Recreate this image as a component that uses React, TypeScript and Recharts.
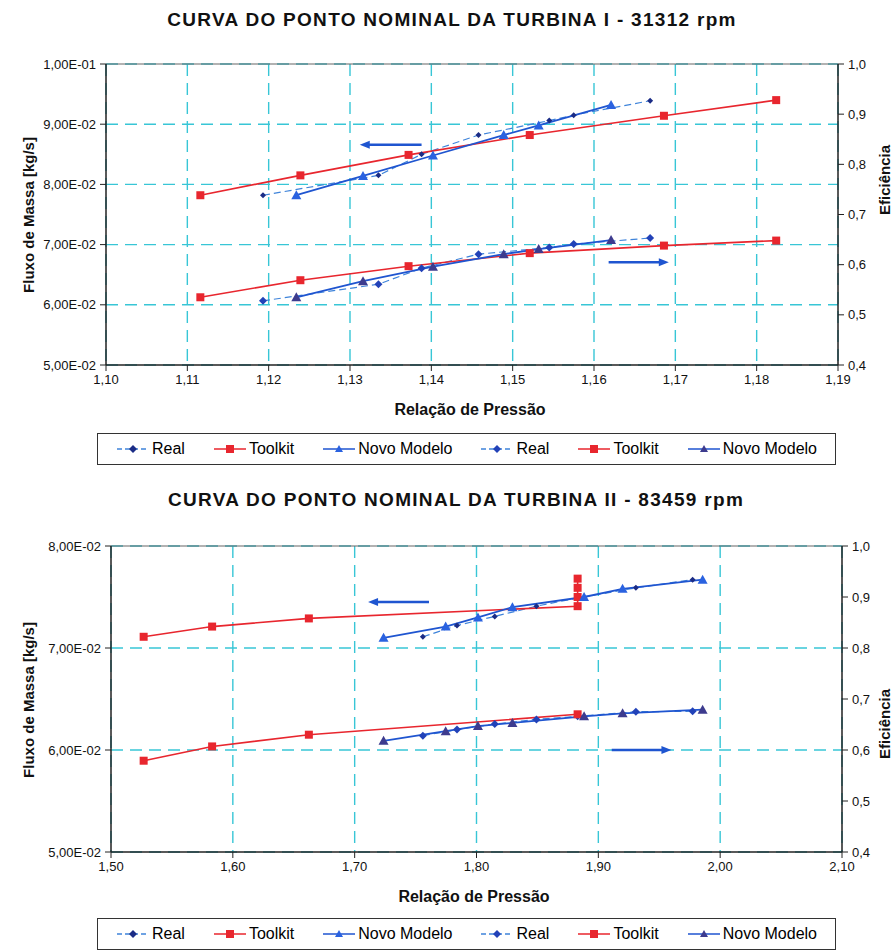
import { LineChart, Line, XAxis, YAxis, CartesianGrid, ReferenceLine } from 'recharts'

const FONT = '"Liberation Sans", Arial, Helvetica, sans-serif'
const GRID = '#38c6d6'
const RED = '#e8262e'
const BLUE = '#1f55d0'
const LIGHT_BLUE = '#3f84da'
const NAVY = '#1b2c86'
const PURPLE = '#3d3b8e'

// Turbina I - 31312 rpm
const t1RealX = [1.1193, 1.1335, 1.1388, 1.1458, 1.1545, 1.1575, 1.1669]
const t1RealMass = [0.0782, 0.0815, 0.085, 0.0882, 0.0906, 0.0915, 0.0939]
const t1RealEff = [0.528, 0.561, 0.593, 0.621, 0.634, 0.641, 0.653]
const t1ToolX = [1.1116, 1.1239, 1.1372, 1.1521, 1.1686, 1.1824]
const t1ToolMass = [0.0782, 0.0815, 0.0849, 0.0882, 0.0914, 0.094]
const t1ToolEff = [0.535, 0.569, 0.597, 0.623, 0.638, 0.648]
const t1NovoX = [1.1234, 1.1316, 1.1402, 1.1489, 1.1532, 1.1621]
const t1NovoMass = [0.0782, 0.0814, 0.0848, 0.0882, 0.0898, 0.0932]
const t1NovoEff = [0.535, 0.567, 0.596, 0.621, 0.631, 0.649]
const t1XTicks = [1.1, 1.11, 1.12, 1.13, 1.14, 1.15, 1.16, 1.17, 1.18, 1.19]
const t1MassTicks = [0.05, 0.06, 0.07, 0.08, 0.09, 0.1]

// Turbina II - 83459 rpm
const t2RealX = [1.756, 1.784, 1.815, 1.8492, 1.883, 1.9308, 1.9774]
const t2RealMass = [0.0711, 0.0722, 0.0731, 0.0741, 0.0749, 0.0759, 0.0767]
const t2RealEff = [0.628, 0.64, 0.651, 0.66, 0.666, 0.675, 0.676]
const t2ToolX = [1.5268, 1.583, 1.6624, 1.883, 1.883, 1.883, 1.883]
const t2ToolMass = [0.0711, 0.0721, 0.0729, 0.0741, 0.075, 0.0759, 0.0768]
const t2ToolEffX = [1.5268, 1.583, 1.6624, 1.883]
const t2ToolEff = [0.579, 0.607, 0.63, 0.67]
const t2NovoX = [1.7237, 1.7747, 1.8012, 1.8295, 1.8883, 1.9199, 1.9856]
const t2NovoMass = [0.071, 0.0721, 0.073, 0.074, 0.075, 0.0758, 0.0767]
const t2NovoEff = [0.618, 0.637, 0.647, 0.653, 0.666, 0.672, 0.679]
const t2XTicks = [1.5, 1.6, 1.7, 1.8, 1.9, 2.0, 2.1]
const t2MassTicks = [0.05, 0.06, 0.07, 0.08]

const effTicks = [0.4, 0.5, 0.6, 0.7, 0.8, 0.9, 1.0]

// annotation arrows: [x start, x end, y, axis]
const t1Arrows: [number, number, number, string][] = [
  [1.1388, 1.1312, 0.0866, 'm'],
  [1.1618, 1.1692, 0.605, 'e'],
]
const t2Arrows: [number, number, number, string][] = [
  [1.761, 1.711, 0.0745, 'm'],
  [1.911, 1.96, 0.6, 'e'],
]

const pts = (xs: number[], ys: number[]) => xs.map((x, i) => ({ x, y: ys[i] }))

const fmtMass = (v: number) => {
  const e = Math.floor(Math.log10(v) + 1e-9)
  const m = v / Math.pow(10, e)
  return `${m.toFixed(2).replace('.', ',')}E-${String(-e).padStart(2, '0')}`
}
const fmtComma = (d: number) => (v: number) => v.toFixed(d).replace('.', ',')

const diamond = (color: string, s: number) => (p: any) => {
  if (p.cx == null) return null
  return <polygon key={p.index} points={`${p.cx},${p.cy - s} ${p.cx + s},${p.cy} ${p.cx},${p.cy + s} ${p.cx - s},${p.cy}`} fill={color} />
}
const square = (color: string) => (p: any) => {
  if (p.cx == null) return null
  return <rect key={p.index} x={p.cx - 4} y={p.cy - 4} width={8} height={8} fill={color} />
}
const triangle = (color: string) => (p: any) => {
  if (p.cx == null) return null
  return <polygon key={p.index} points={`${p.cx},${p.cy - 5} ${p.cx + 5},${p.cy + 4} ${p.cx - 5},${p.cy + 4}`} fill={color} />
}

const arrowShape = (p: any) => {
  const { x1, y1, x2, y2 } = p
  const dir = x2 > x1 ? 1 : -1
  return (
    <g>
      <line x1={x1} y1={y1} x2={x2 - dir * 6} y2={y2} stroke={BLUE} strokeWidth={2.5} />
      <polygon points={`${x2},${y2} ${x2 - dir * 10},${y2 - 4} ${x2 - dir * 10},${y2 + 4}`} fill={BLUE} />
    </g>
  )
}

interface Series {
  key: string
  axis: string
  data: { x: number; y: number }[]
  stroke: string
  width: number
  dash?: string
  dot: any
}

function turbineSeries(realX: number[], realM: number[], realE: number[], toolX: number[], toolM: number[], toolEX: number[], toolE: number[], novoX: number[], novoM: number[], novoE: number[]): Series[] {
  return [
    { key: 'realM', axis: 'm', data: pts(realX, realM), stroke: LIGHT_BLUE, width: 1.2, dash: '7 4', dot: diamond(NAVY, 3) },
    { key: 'toolM', axis: 'm', data: pts(toolX, toolM), stroke: RED, width: 1.6, dot: square(RED) },
    { key: 'novoM', axis: 'm', data: pts(novoX, novoM), stroke: BLUE, width: 1.8, dot: triangle('#2a62e0') },
    { key: 'realE', axis: 'e', data: pts(realX, realE), stroke: LIGHT_BLUE, width: 1.2, dash: '7 4', dot: diamond('#2242b8', 4) },
    { key: 'toolE', axis: 'e', data: pts(toolEX, toolE), stroke: RED, width: 1.6, dot: square(RED) },
    { key: 'novoE', axis: 'e', data: pts(novoX, novoE), stroke: BLUE, width: 1.8, dot: triangle(PURPLE) },
  ]
}

const tickStyle = { fontSize: 13, fill: '#111', fontFamily: FONT }
const axisLine = { stroke: '#222', strokeWidth: 1.5 }

function TurbineChart({ top, margin, xTicks, massTicks, series, arrows }: any) {
  const xDomain = [xTicks[0], xTicks[xTicks.length - 1]]
  const mDomain = [massTicks[0], massTicks[massTicks.length - 1]]
  return (
    <div style={{ position: 'absolute', left: 0, top }}>
      <LineChart width={880} height={400} margin={margin}>
        <CartesianGrid yAxisId="m" stroke={GRID} strokeWidth={1.4} strokeDasharray="12 7" />
        <XAxis
          type="number"
          dataKey="x"
          domain={xDomain}
          ticks={xTicks}
          tickFormatter={fmtComma(2)}
          allowDataOverflow
          height={30}
          tick={tickStyle}
          axisLine={axisLine}
          tickLine={{ stroke: '#222' }}
          tickMargin={4}
        />
        <YAxis
          yAxisId="m"
          type="number"
          domain={mDomain}
          ticks={massTicks}
          tickFormatter={fmtMass}
          allowDataOverflow
          width={70}
          tick={tickStyle}
          axisLine={axisLine}
          tickLine={{ stroke: '#222' }}
          tickMargin={4}
        />
        <YAxis
          yAxisId="e"
          orientation="right"
          type="number"
          domain={[0.4, 1.0]}
          ticks={effTicks}
          tickFormatter={fmtComma(1)}
          allowDataOverflow
          width={40}
          tick={tickStyle}
          axisLine={axisLine}
          tickLine={{ stroke: '#222' }}
          tickMargin={4}
        />
        <ReferenceLine yAxisId="m" y={mDomain[1]} stroke="#666" strokeWidth={1.2} />
        {series.map((s: Series) => (
          <Line
            key={s.key}
            yAxisId={s.axis}
            data={s.data}
            dataKey="y"
            type="linear"
            stroke={s.stroke}
            strokeWidth={s.width}
            strokeDasharray={s.dash}
            dot={s.dot}
            activeDot={false}
            isAnimationActive={false}
          />
        ))}
        {arrows.map((a: [number, number, number, string], i: number) => (
          <ReferenceLine
            key={`arrow-${i}`}
            yAxisId={a[3]}
            segment={[{ x: a[0], y: a[2] }, { x: a[1], y: a[2] }]}
            shape={arrowShape}
          />
        ))}
      </LineChart>
    </div>
  )
}

const legendItems = [
  { name: 'Real', stroke: LIGHT_BLUE, dash: '5 3', marker: 'diamond', fill: NAVY },
  { name: 'Toolkit', stroke: RED, dash: undefined, marker: 'square', fill: RED },
  { name: 'Novo Modelo', stroke: BLUE, dash: undefined, marker: 'triangle', fill: '#2a62e0' },
  { name: 'Real', stroke: LIGHT_BLUE, dash: '5 3', marker: 'diamond', fill: '#2242b8' },
  { name: 'Toolkit', stroke: RED, dash: undefined, marker: 'square', fill: RED },
  { name: 'Novo Modelo', stroke: BLUE, dash: undefined, marker: 'triangle', fill: PURPLE },
]

function LegendBox({ top }: { top: number }) {
  return (
    <div
      style={{
        position: 'absolute',
        left: 89,
        top,
        width: 739,
        height: 32,
        border: '1px solid #333',
        display: 'flex',
        alignItems: 'center',
        justifyContent: 'space-around',
        padding: '0 4px',
        boxSizing: 'border-box',
        fontSize: 16,
        fontFamily: FONT,
        background: '#fff',
      }}
    >
      {legendItems.map((it, i) => (
        <div key={i} style={{ display: 'flex', alignItems: 'center' }}>
          <svg width={34} height={12}>
            <line x1={1} y1={6} x2={33} y2={6} stroke={it.stroke} strokeWidth={1.5} strokeDasharray={it.dash} />
            {it.marker === 'square' && <rect x={13} y={2} width={8} height={8} fill={it.fill} />}
            {it.marker === 'diamond' && <polygon points="17,2 21,6 17,10 13,6" fill={it.fill} />}
            {it.marker === 'triangle' && <polygon points="17,2 21,9 13,9" fill={it.fill} />}
          </svg>
          <span style={{ marginLeft: 2 }}>{it.name}</span>
        </div>
      ))}
    </div>
  )
}

const titleStyle: any = {
  position: 'absolute',
  left: 4,
  width: 880,
  textAlign: 'center',
  fontWeight: 'bold',
  fontSize: 19,
  letterSpacing: 1.3,
  fontFamily: FONT,
  color: '#111',
}
const axisTitle: any = {
  position: 'absolute',
  fontWeight: 'bold',
  fontSize: 16,
  fontFamily: FONT,
  color: '#111',
  whiteSpace: 'nowrap',
}

function VTitle({ x, y, text, size }: { x: number; y: number; text: string; size: number }) {
  return (
    <div style={{ ...axisTitle, fontSize: size, left: x, top: y, transform: 'translate(-50%, -50%) rotate(-90deg)' }}>{text}</div>
  )
}

export default function App() {
  const s1 = turbineSeries(t1RealX, t1RealMass, t1RealEff, t1ToolX, t1ToolMass, t1ToolX, t1ToolEff, t1NovoX, t1NovoMass, t1NovoEff)
  const s2 = turbineSeries(t2RealX, t2RealMass, t2RealEff, t2ToolX, t2ToolMass, t2ToolEffX, t2ToolEff, t2NovoX, t2NovoMass, t2NovoEff)
  return (
    <div style={{ position: 'fixed', left: 0, top: 0, width: 896, height: 950, overflow: 'hidden', background: '#fff' }}>
      <div style={{ position: 'absolute', left: 8, top: 8, width: 880, height: 942, fontFamily: FONT }}>
        <TurbineChart
          top={0}
          margin={{ top: 56, right: 10, bottom: 13, left: 28 }}
          xTicks={t1XTicks}
          massTicks={t1MassTicks}
          series={s1}
          arrows={t1Arrows}
        />
        <div style={{ ...titleStyle, top: 1 }}>CURVA DO PONTO NOMINAL DA TURBINA I - 31312 rpm</div>
        <VTitle x={20} y={207} size={15} text="Fluxo de Massa [kg/s]" />
        <VTitle x={876} y={172} size={15} text="Eficiência" />
        <div style={{ ...axisTitle, left: 0, width: 924, textAlign: 'center', top: 393 }}>Relação de Pressão</div>
        <LegendBox top={425} />

        <TurbineChart
          top={482}
          margin={{ top: 56, right: 6, bottom: 8, left: 33 }}
          xTicks={t2XTicks}
          massTicks={t2MassTicks}
          series={s2}
          arrows={t2Arrows}
        />
        <div style={{ ...titleStyle, top: 481, left: 8 }}>CURVA DO PONTO NOMINAL DA TURBINA II - 83459 rpm</div>
        <VTitle x={20} y={692} size={15} text="Fluxo de Massa [kg/s]" />
        <VTitle x={876} y={716} size={15} text="Eficiência" />
        <div style={{ ...axisTitle, left: 0, width: 932, textAlign: 'center', top: 880 }}>Relação de Pressão</div>
        <LegendBox top={910} />
      </div>
    </div>
  )
}
